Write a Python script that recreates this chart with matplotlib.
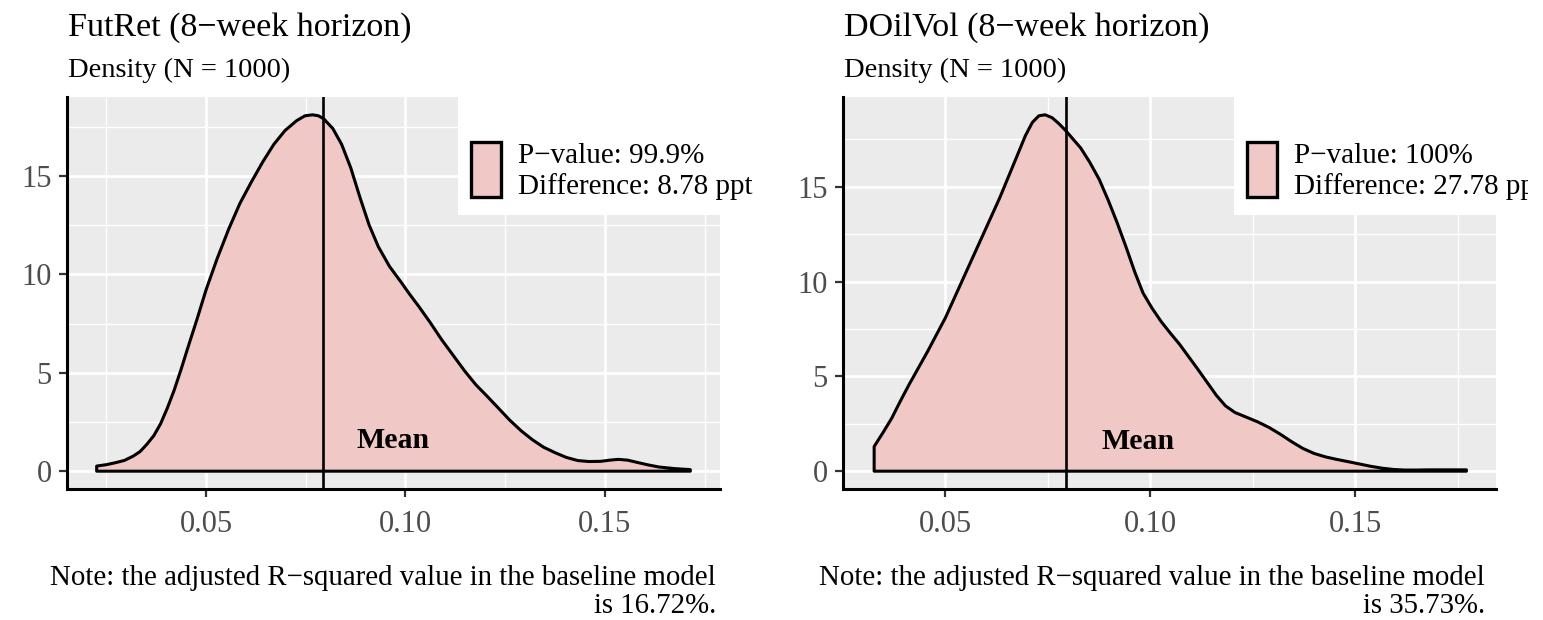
import matplotlib
matplotlib.use("Agg")
import matplotlib.pyplot as plt
from matplotlib.patches import Rectangle
from matplotlib.transforms import Bbox, TransformedBbox
import numpy as np

plt.rcParams['font.family'] = ['Liberation Serif', 'DejaVu Serif']

# density curves
futret_x = [0.0226, 0.0250, 0.0273, 0.0296, 0.0318, 0.0335, 0.0352, 0.0369, 0.0386,
            0.0403, 0.0420, 0.0438, 0.0455, 0.0478, 0.0500, 0.0528, 0.0557, 0.0585,
            0.0614, 0.0642, 0.0670, 0.0698, 0.0727, 0.0748, 0.0767, 0.0782, 0.0795,
            0.0818, 0.0840, 0.0863, 0.0886, 0.0909, 0.0932, 0.0960, 0.0989, 0.1010,
            0.1034, 0.1062, 0.1090, 0.1119, 0.1148, 0.1176, 0.1205, 0.1233, 0.1261,
            0.1290, 0.1318, 0.1346, 0.1375, 0.1403, 0.1432, 0.1460, 0.1489, 0.1512,
            0.1534, 0.1557, 0.1580, 0.1608, 0.1636, 0.1675, 0.1714]
futret_y = [0.26, 0.33, 0.43, 0.55, 0.77, 1.0, 1.37, 1.8, 2.4,
            3.2, 4.1, 5.2, 6.3, 7.75, 9.2, 10.8, 12.3, 13.6,
            14.7, 15.7, 16.6, 17.3, 17.8, 18.05, 18.1, 18.05, 17.9,
            17.4, 16.6, 15.4, 13.9, 12.5, 11.4, 10.4, 9.6, 9.0,
            8.35, 7.55, 6.7, 5.9, 5.1, 4.4, 3.8, 3.2, 2.6,
            2.05, 1.6, 1.22, 0.94, 0.7, 0.54, 0.49, 0.50, 0.56,
            0.6, 0.56, 0.45, 0.32, 0.21, 0.13, 0.08]

doilvol_x = [0.0326, 0.0348, 0.0369, 0.0390, 0.0412, 0.0434, 0.0456, 0.0478, 0.0500,
             0.0522, 0.0544, 0.0566, 0.0588, 0.0610, 0.0632, 0.0654, 0.0676, 0.0695,
             0.0712, 0.0728, 0.0743, 0.0760, 0.0776, 0.0792, 0.0808, 0.0830, 0.0852,
             0.0875, 0.0897, 0.0919, 0.0941, 0.0962, 0.0982, 0.1004, 0.1026, 0.1048,
             0.1071, 0.1093, 0.1115, 0.1138, 0.1161, 0.1183, 0.1206, 0.1234, 0.1262,
             0.1290, 0.1317, 0.1345, 0.1372, 0.1400, 0.1428, 0.1455, 0.1483, 0.1510,
             0.1537, 0.1565, 0.1593, 0.1620, 0.1648, 0.1680, 0.1715, 0.1771]
doilvol_y = [1.3, 2.05, 2.8, 3.7, 4.6, 5.45, 6.3, 7.2, 8.1,
             9.15, 10.2, 11.25, 12.3, 13.35, 14.4, 15.55, 16.7, 17.7,
             18.4, 18.75, 18.8, 18.65, 18.35, 18.0, 17.6, 17.05, 16.3,
             15.4, 14.3, 13.1, 11.8, 10.5, 9.4, 8.6, 7.9, 7.3,
             6.7, 6.05, 5.4, 4.7, 4.0, 3.45, 3.1, 2.85, 2.6,
             2.3, 1.95, 1.55, 1.2, 0.93, 0.75, 0.62, 0.5, 0.38,
             0.26, 0.16, 0.09, 0.06, 0.06, 0.07, 0.07, 0.07]

mean_values = [0.0794, 0.0795]
titles = ['FutRet (8\u2212week horizon)', 'DOilVol (8\u2212week horizon)']
p_values = ['99.9%', '100%']
differences = ['8.78', '27.78']
baseline_r2 = ['16.72%', '35.73%']
x_ticks = [0.05, 0.10, 0.15]
x_minor = [0.025, 0.075, 0.125, 0.175]
y_ticks = [0, 5, 10, 15]
y_minor = [2.5, 7.5, 12.5, 17.5]

W, H = 1543, 620
fill_col = '#F0C8C6'

fig = plt.figure(figsize=(W / 100, H / 100), dpi=100)


def fx(px):
    return px / W


def fy(py):
    return 1 - py / H


panels = [(67, futret_x, futret_y, 716), (843, doilvol_x, doilvol_y, 1485)]

for i, (x0, xs, ys, cap_right) in enumerate(panels):
    ax = fig.add_axes([fx(x0), fy(489), 653 / W, 392 / H])
    ax.set_facecolor('#EBEBEB')
    ax.set_axisbelow(True)

    xs = np.array(xs)
    ys = np.array(ys)
    ax.fill(np.r_[xs, xs[-1], xs[0]], np.r_[ys, 0, 0], facecolor=fill_col,
            edgecolor='black', lw=2.2, joinstyle='round', zorder=2)
    ax.axvline(mean_values[i], color='black', lw=1.9, zorder=3)
    ax.text(mean_values[i] + 0.0175, 1.55, 'Mean', fontsize=21.5, fontweight='bold',
            ha='center', va='center', zorder=4)

    rng = xs.max() - xs.min()
    ax.set_xlim(xs.min() - 0.05 * rng, xs.max() + 0.05 * rng)
    ax.set_ylim(-0.05 * ys.max(), 1.05 * ys.max())

    ax.set_xticks(x_ticks)
    ax.set_xticklabels([f'{t:.2f}' for t in x_ticks])
    ax.set_xticks(x_minor, minor=True)
    ax.set_yticks(y_ticks)
    ax.set_yticks(y_minor, minor=True)
    ax.grid(which='major', color='white', lw=2.0)
    ax.grid(which='minor', color='white', lw=1.0)

    for s in ['top', 'right']:
        ax.spines[s].set_visible(False)
    for s in ['left', 'bottom']:
        ax.spines[s].set_linewidth(2.2)
        ax.spines[s].set_color('black')
    ax.tick_params(which='major', length=6, width=1.6, color='#333333',
                   labelsize=22, labelcolor='#4D4D4D')
    ax.tick_params(axis='x', pad=9)
    ax.tick_params(axis='y', pad=5)
    ax.tick_params(which='minor', length=0)

    # titles
    fig.text(fx(x0 + 1), fy(36), titles[i], fontsize=24.5, ha='left', va='baseline')
    fig.text(fx(x0 + 1), fy(77), 'Density (N = 1000)', fontsize=20.5, ha='left',
             va='baseline')

    # caption
    fig.text(fx(cap_right), fy(585),
             'Note: the adjusted R\u2212squared value in the baseline model',
             fontsize=20.8, ha='right', va='baseline')
    fig.text(fx(cap_right), fy(613), f'is {baseline_r2[i]}.', fontsize=20.8,
             ha='right', va='baseline')

    # legend box
    lx = x0 + 391
    fig.patches.append(Rectangle((fx(lx), fy(215)), 330 / W, 118 / H,
                                 transform=fig.transFigure, facecolor='white',
                                 edgecolor='none', zorder=5))
    fig.patches.append(Rectangle((fx(lx + 13), fy(197)), 30 / W, 55 / H,
                                 transform=fig.transFigure, facecolor=fill_col,
                                 edgecolor='black', lw=2.4, zorder=6))
    clip = TransformedBbox(Bbox.from_extents(0, 0, 1528 / W, 1), fig.transFigure)
    for lab, yb in [(f'P\u2212value: {p_values[i]}', 163),
                    (f'Difference: {differences[i]} ppt', 194)]:
        t = fig.text(fx(lx + 60), fy(yb), lab, fontsize=21, ha='left', va='baseline',
                     zorder=7)
        t.set_clip_box(clip)
        t.set_clip_on(True)

fig.savefig('out.png', dpi=100)
